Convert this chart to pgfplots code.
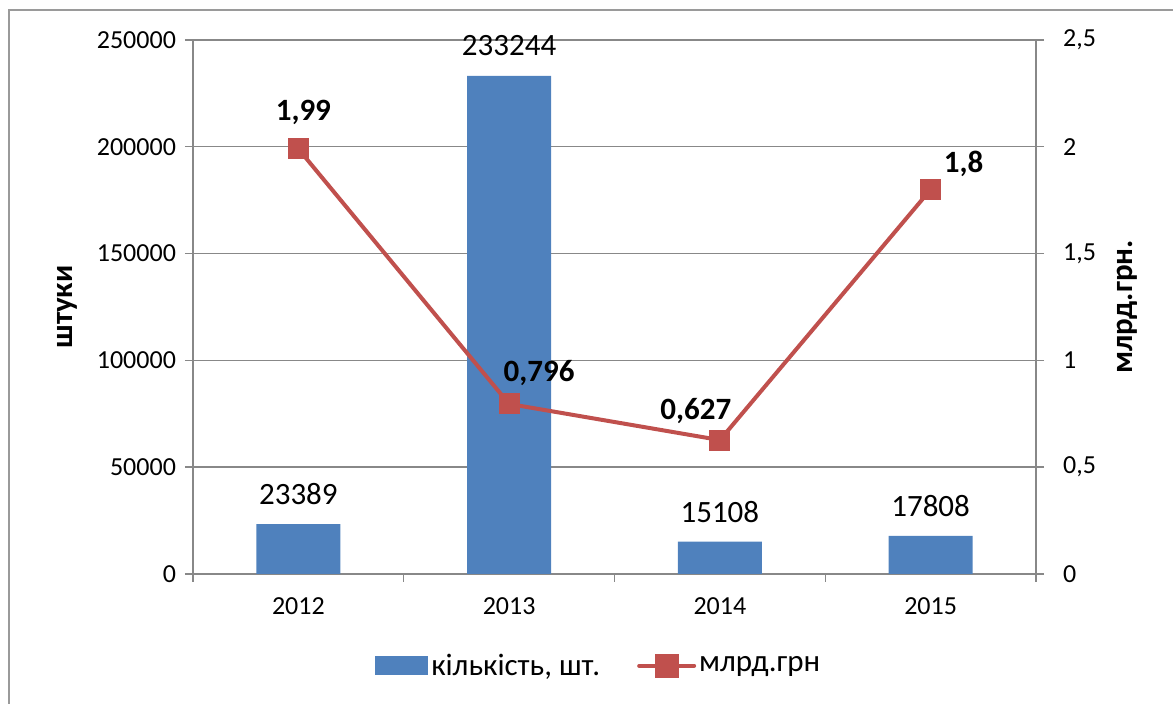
\documentclass[border=0pt]{standalone}
\usepackage{pgfplots}
\pgfplotsset{compat=1.18}
\usepackage{pgfplotstable}
\usepackage{fontspec}
\setmainfont{Carlito}
\definecolor{barblue}{HTML}{4F81BD}
\definecolor{linered}{HTML}{C0504D}
\definecolor{axgray}{HTML}{888888}
\definecolor{framegray}{HTML}{9A9A9A}
\newcommand\tickfont{\fontsize{13}{15}\selectfont}
\newcommand\labfont{\fontsize{15.5}{18}\selectfont}

\pgfplotstableread{
x y lab
0 23389 23389
1 233244 233244
2 15108 15108
3 17808 17808
}\bardata

\pgfplotstableread{
x y
0 1.99
1 0.796
2 0.627
3 1.8
}\linedata

\pgfplotsset{vlab/.style={draw=none, forget plot, nodes near coords, point meta=explicit symbolic,
  nodes near coords style={font=\labfont\bfseries, text=black, anchor=center}}}

\begin{document}
\begin{tikzpicture}[x=1pt,y=1pt]
\path[use as bounding box] (0,0) rectangle (586.5,352);
\draw[framegray, line width=0.8pt] (4.5,-5) -- (4.5,347) -- (600,347);

\begin{axis}[
  at={(96.5pt,65pt)}, anchor=south west,
  scale only axis, width=421.5pt, height=267pt,
  xmin=-0.5, xmax=3.5, ymin=0, ymax=250000,
  axis x line*=bottom, axis y line*=left,
  axis line style={axgray, line width=0.7pt},
  tick align=outside, major tick length=4pt,
  tick style={axgray, line width=0.7pt},
  xtick={-0.5,0.5,1.5,2.5,3.5}, xticklabels={},
  extra x ticks={0,1,2,3}, extra x tick labels={2012,2013,2014,2015},
  extra x tick style={major tick length=0pt},
  xticklabel style={font=\tickfont, yshift=-8.5pt},
  scaled y ticks=false,
  ytick={0,50000,100000,150000,200000,250000},
  yticklabels={0,50000,100000,150000,200000,250000},
  yticklabel style={font=\tickfont, xshift=-1pt},
  ymajorgrids, grid style={axgray, line width=0.7pt},
  ylabel={штуки},
  ylabel style={font=\labfont\bfseries, at={(axis description cs:-0.1495,0.5)}, anchor=center},
]
\addplot[ybar, bar width=42pt, fill=barblue, draw=none,
  nodes near coords, point meta=explicit symbolic,
  nodes near coords style={font=\labfont, text=black, anchor=center, yshift=15pt}]
  table[x=x, y=y, meta=lab]{\bardata};
\end{axis}

\begin{axis}[
  at={(96.5pt,65pt)}, anchor=south west,
  scale only axis, width=421.5pt, height=267pt,
  xmin=-0.5, xmax=3.5, ymin=0, ymax=2.5,
  axis x line=none, axis y line*=right,
  axis line style={axgray, line width=0.7pt},
  tick align=outside, major tick length=4pt,
  tick style={axgray, line width=0.7pt},
  ytick={0,0.5,1,1.5,2,2.5},
  yticklabels={0,{0,5},1,{1,5},2,{2,5}},
  yticklabel style={font=\tickfont, xshift=6pt},
  ylabel={млрд.грн.},
  ylabel style={font=\labfont\bfseries, at={(axis description cs:1.108,0.5)}, anchor=center},
  legend style={at={(0.482,-0.172)}, anchor=center, draw=none, fill=none,
    font=\labfont, legend columns=2,
    /tikz/every even column/.append style={column sep=17pt},
    nodes={inner sep=1.5pt}},
  legend cell align=left,
]
\addlegendimage{legend image code/.code={\fill[barblue] (0pt,-4.5pt) rectangle (26pt,4.5pt);}}
\addlegendentry{кількість, шт.}
\addplot[linered, line width=2pt, mark=square*, mark size=5pt,
  mark options={fill=linered, draw=linered, line width=0pt},
  legend image code/.code={
    \draw[linered, line width=2pt, line cap=round] (0pt,0pt) -- (27.5pt,0pt);
    \fill[linered] (9pt,-5pt) rectangle (19pt,5pt);}]
  table[x=x, y=y]{\linedata};
\addlegendentry{млрд.грн}
\addplot[vlab, nodes near coords style={xshift=2.5pt, yshift=18pt}] coordinates {(0,1.99) [1,99]};
\addplot[vlab, nodes near coords style={xshift=15pt, yshift=15.5pt}] coordinates {(1,0.796) [0,796]};
\addplot[vlab, nodes near coords style={xshift=-12pt, yshift=14.5pt}] coordinates {(2,0.627) [0,627]};
\addplot[vlab, nodes near coords style={xshift=16.5pt, yshift=13pt}] coordinates {(3,1.8) [1,8]};
\end{axis}
\end{tikzpicture}
\end{document}
